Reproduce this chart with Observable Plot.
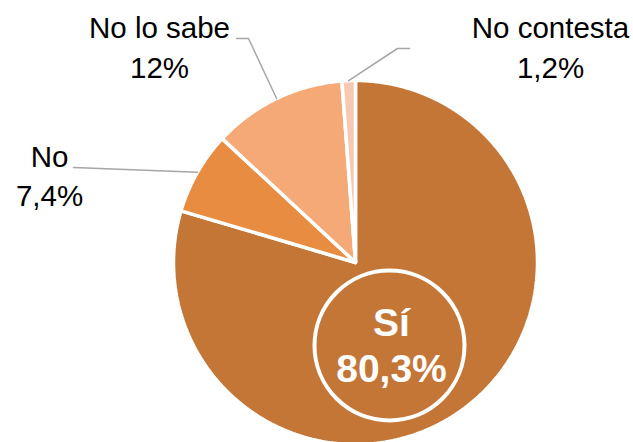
<!DOCTYPE html>
<html>
<head>
<meta charset="utf-8">
<script src="https://cdn.jsdelivr.net/npm/d3@7"></script>
<script src="https://cdn.jsdelivr.net/npm/@observablehq/plot@0.6"></script>
<style>
  html, body { margin: 0; padding: 0; background: #fff; }
  #chart { width: 633px; height: 442px; overflow: hidden; }
</style>
</head>
<body>
<div id="chart"></div>
<script>
// ---- Data ----
const categories = ["Sí", "No", "No lo sabe", "No contesta"];
const values = [80.3, 7.4, 12, 1.2];
const valueLabels = ["80,3%", "7,4%", "12%", "1,2%"];
const colors = ["#C47637", "#E88C42", "#F5A977", "#F8C9B2"];

// ---- Layout (pixels) ----
const W = 633, H = 442, cx = 355, cy = 262, R = 182;
const ux = X => (X - cx) / R;
const uy = Y => (cy - Y) / R;

const labelLayout = {
  "No":          { x: 49,  base1: 166, base2: 205, path: [[73, 167]] },
  "No lo sabe":  { x: 159, base1: 37,  base2: 77,  path: [[248, 38], [236, 38]] },
  "No contesta": { x: 550, base1: 37,  base2: 77,  path: [[397, 48], [409, 48]] }
};
const insideLayout = { cx: 389, cy: 345, r: 75, x: 391, base1: 335, base2: 381 };

// ---- Build geometry from data ----
const rows = categories.map((c, i) => ({ cat: c, value: values[i], label: valueLabels[i] }));
const arcs = d3.pie().sort(null).value(d => d.value).startAngle(0).endAngle(2 * Math.PI)(rows);

const poly = [];
arcs.forEach(a => {
  poly.push({ cat: a.data.cat, x: 0, y: 0 });
  const n = Math.max(2, Math.ceil((a.endAngle - a.startAngle) / (Math.PI / 360)));
  for (let k = 0; k <= n; k++) {
    const t = a.startAngle + (a.endAngle - a.startAngle) * k / n;
    poly.push({ cat: a.data.cat, x: Math.sin(t), y: Math.cos(t) });
  }
  poly.push({ cat: a.data.cat, x: 0, y: 0 });
});

const leaders = [];
const outerText = [];
arcs.forEach(a => {
  const L = labelLayout[a.data.cat];
  if (!L) return;
  const mid = (a.startAngle + a.endAngle) / 2;
  leaders.push({ cat: a.data.cat, x: Math.sin(mid), y: Math.cos(mid) });
  L.path.forEach(p => leaders.push({ cat: a.data.cat, x: ux(p[0]), y: uy(p[1]) }));
  outerText.push({ x: ux(L.x), y: uy(L.base1), text: a.data.cat });
  outerText.push({ x: ux(L.x), y: uy(L.base2), text: a.data.label });
});

const si = rows[0];
const innerText = [
  { x: ux(insideLayout.x), y: uy(insideLayout.base1), text: si.cat },
  { x: ux(insideLayout.x), y: uy(insideLayout.base2), text: si.label }
];

const chart = Plot.plot({
  width: W,
  height: H,
  margin: 0,
  style: { background: "#fff", fontFamily: "'Liberation Sans', Arial, sans-serif", overflow: "hidden" },
  x: { domain: [-1, 1], range: [cx - R, cx + R], axis: null },
  y: { domain: [-1, 1], range: [cy + R, cy - R], axis: null },
  color: { domain: categories, range: colors },
  marks: [
    Plot.line(poly, { x: "x", y: "y", z: "cat", fill: "cat", stroke: "#fff", strokeWidth: 3.5, strokeLinejoin: "miter", curve: "linear" }),
    Plot.line(leaders, { x: "x", y: "y", z: "cat", stroke: "#A6A6A6", strokeWidth: 1.5, curve: "linear" }),
    Plot.text(outerText, { x: "x", y: "y", text: "text", textAnchor: "middle", lineAnchor: "bottom", fontSize: 29.5, fill: "#000" }),
    Plot.dot([{ x: ux(insideLayout.cx), y: uy(insideLayout.cy) }], { x: "x", y: "y", r: insideLayout.r, stroke: "#fff", strokeWidth: 4, fill: "none" }),
    Plot.text(innerText, { x: "x", y: "y", text: "text", textAnchor: "middle", lineAnchor: "bottom", fontSize: 39, fontWeight: "bold", fill: "#fff" })
  ]
});
document.getElementById("chart").appendChild(chart);
</script>
</body>
</html>
